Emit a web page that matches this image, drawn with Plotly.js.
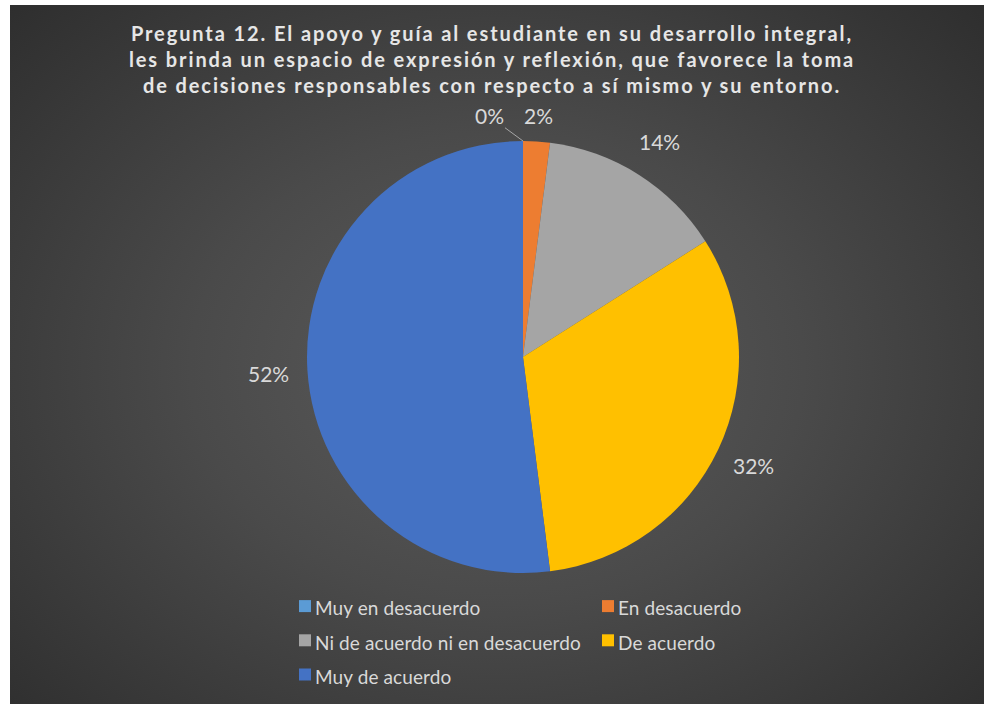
<!DOCTYPE html>
<html>
<head>
<meta charset="utf-8">
<script src="https://cdn.plot.ly/plotly-3.0.1.min.js"></script>
<style>
  html, body { margin: 0; padding: 0; background: #ffffff; }
  #bg { position: absolute; left: 10px; top: 5px; width: 974px; height: 699px;
        background: radial-gradient(ellipse 70% 75% at 50% 52%, #5c5c5c 0%, #4a4a4a 45%, #2e2e2e 100%); }
  #chart { position: absolute; left: 0; top: 0; width: 984px; height: 704px; }
  .gtitle { letter-spacing: 1.9px; }
  .legendtext { letter-spacing: 0.1px; transform: translateX(-10px); }
</style>
</head>
<body>
<div id="bg"></div>
<div id="chart"></div>
<script>
const categories = ["Muy en desacuerdo", "En desacuerdo", "Ni de acuerdo ni en desacuerdo", "De acuerdo", "Muy de acuerdo"];
const values = [0, 1, 7, 16, 26];
const colors = ["#5B9BD5", "#ED7D31", "#A5A5A5", "#FFC000", "#4472C4"];
const titleLines = [
  "Pregunta 12. El apoyo y guía al estudiante en su desarrollo integral,",
  "les brinda un espacio de expresión y reflexión, que favorece la toma",
  "de decisiones responsables con respecto a sí mismo y su entorno."
];

const W = 984, H = 704;
const MR = 100;              // right margin keeps the legend at two columns
const PW = W - MR;           // plot-area width
const dom = { x: [307 / PW, 739 / PW], y: [1 - 573 / H, 1 - 141 / H] };
const cx = (dom.x[0] + dom.x[1]) / 2 * PW;
const cy = (1 - (dom.y[0] + dom.y[1]) / 2) * H;
const R = (dom.x[1] - dom.x[0]) * PW / 2;

const total = values.reduce((a, b) => a + b, 0);
const pct = values.map(v => Math.round(v / total * 100) + "%");
const labelFont = { family: "Lato, 'Open Sans', sans-serif", size: 21, color: "#d9d9d9" };

// percentage labels placed from the slice angles
const annotations = [];
let cum = 0;
values.forEach((v, i) => {
  const mid = (cum + v / 2) / total * 2 * Math.PI;
  cum += v;
  if (v === 0) {
    // zero slice: label pulled left with a leader line to the slice position
    const px = cx + R * Math.sin(mid), py = cy - R * Math.cos(mid);
    annotations.push({
      x: px / PW, y: 1 - py / H, xref: "paper", yref: "paper",
      text: pct[i], showarrow: true, arrowhead: 0, arrowwidth: 1, arrowcolor: "#a6a6a6",
      ax: -34, ay: -25, standoff: 0, font: labelFont
    });
    return;
  }
  const lr = R + (v / total < 0.05 ? 26 : 39);
  const lx = cx + lr * Math.sin(mid), ly = cy - lr * Math.cos(mid);
  annotations.push({
    x: lx / PW, y: 1 - ly / H, xref: "paper", yref: "paper",
    text: pct[i], showarrow: false, xanchor: "center", yanchor: "middle", font: labelFont
  });
});

const legendLabels = categories.map(c => '<span style="font-size:19px">' + c + '</span>');

const data = [{
  type: "pie",
  labels: legendLabels,
  values: values,
  sort: false,
  direction: "clockwise",
  rotation: 0,
  textinfo: "none",
  hoverinfo: "label+percent",
  marker: { colors: colors, line: { width: 0 } },
  domain: dom,
  showlegend: true
}];

const layout = {
  width: W, height: H,
  margin: { l: 0, r: MR, t: 0, b: 0 },
  paper_bgcolor: "rgba(0,0,0,0)",
  plot_bgcolor: "rgba(0,0,0,0)",
  title: {
    text: "<b>" + titleLines.join("<br>") + "</b>",
    font: { family: "Lato, 'Open Sans', sans-serif", size: 20, color: "#e6e6e6" },
    x: 0.5, xanchor: "center", y: 1 - 41 / H, yanchor: "top"
  },
  legend: {
    orientation: "h",
    x: 285 / PW, xanchor: "left",
    y: 1 - 584 / H, yanchor: "top",
    entrywidth: 258, entrywidthmode: "pixels",
    font: { family: "Lato, 'Open Sans', sans-serif", size: 24, color: "#d9d9d9" },
    bgcolor: "rgba(0,0,0,0)",
    traceorder: "normal",
    itemclick: false
  },
  annotations: annotations,
  showlegend: true
};

Plotly.newPlot("chart", data, layout, { displayModeBar: false, staticPlot: true });
</script>
</body>
</html>
